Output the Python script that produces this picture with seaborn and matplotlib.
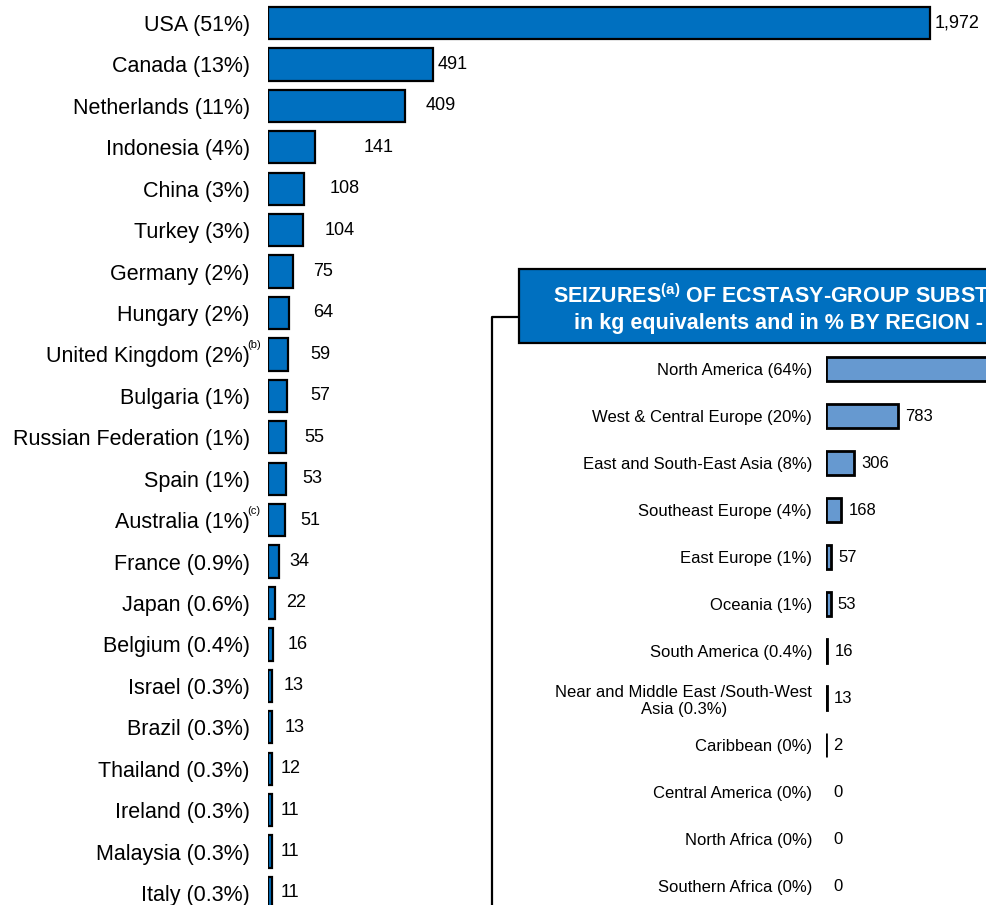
"""
Ecstasy-group seizures by country, with a regional breakdown inset.
"""

import numpy as np
import pandas as pd
import matplotlib.pyplot as plt
from matplotlib.patches import Rectangle
from matplotlib.lines import Line2D
import seaborn as sns

# --- data -------------------------------------------------------------
countries = ['USA (51%)', 'Canada (13%)', 'Netherlands (11%)', 'Indonesia (4%)',
             'China (3%)', 'Turkey (3%)', 'Germany (2%)', 'Hungary (2%)',
             'United Kingdom (2%)', 'Bulgaria (1%)', 'Russian Federation (1%)',
             'Spain (1%)', 'Australia (1%)', 'France (0.9%)', 'Japan (0.6%)',
             'Belgium (0.4%)', 'Israel (0.3%)', 'Brazil (0.3%)', 'Thailand (0.3%)',
             'Ireland (0.3%)', 'Malaysia (0.3%)', 'Italy (0.3%)']
country_kg = [1972, 491, 409, 141, 108, 104, 75, 64, 59, 57, 55, 53, 51,
              34, 22, 16, 13, 13, 12, 11, 11, 11]
country_notes = ['', '', '', '', '', '', '', '', '(b)', '', '', '', '(c)',
                 '', '', '', '', '', '', '', '', '']

regions = ['North America (64%)', 'West & Central Europe (20%)',
           'East and South-East Asia (8%)', 'Southeast Europe (4%)',
           'East Europe (1%)', 'Oceania (1%)', 'South America (0.4%)',
           'Near and Middle East /South-West\nAsia (0.3%)', 'Caribbean (0%)',
           'Central America (0%)', 'North Africa (0%)', 'Southern Africa (0%)']
region_kg = [2485, 783, 306, 168, 57, 53, 16, 13, 2, 0, 0, 0]

title_line1 = 'SEIZURES$^{\\mathbf{(a)}}$ OF ECSTASY-GROUP SUBSTANCES, 2007'
title_line2 = 'in kg equivalents and in % BY REGION - TOTAL: 3.9 TONS'

# value-label gaps (pixels) as laid out in the original
label_gap = [5, 5, 20, 48, 25, 22, 20, 24, 23, 23, 18, 17, 15, 10, 11, 14,
             11, 12, 9, 9, 9, 9]

# --- style ------------------------------------------------------------
sns.set_style('white')
plt.rcParams['font.family'] = ['Liberation Sans', 'DejaVu Sans']
plt.rcParams['mathtext.fontset'] = 'custom'
plt.rcParams['mathtext.rm'] = 'Liberation Sans'
plt.rcParams['mathtext.bf'] = 'Liberation Sans:bold'
plt.rcParams['text.color'] = 'black'
plt.rcParams['ytick.color'] = 'black'
plt.rcParams['ytick.labelcolor'] = 'black'

W, H = 987, 905
fig = plt.figure(figsize=(W / 100, H / 100), dpi=100)

main_blue = '#0070C0'
light_blue = '#6699D0'


def px_box(left, top, right, bottom):
    return [left / W, 1 - bottom / H, (right - left) / W, (bottom - top) / H]


# --- main chart -------------------------------------------------------
ax = fig.add_axes(px_box(268, 0, W, H))
df = pd.DataFrame({'country': countries, 'kg': country_kg})
sns.barplot(data=df, x='kg', y='country', orient='h', color=main_blue,
            saturation=1, edgecolor='black', linewidth=1.6, width=0.78, ax=ax)
ax.set_xlim(0, 2142)
ax.set_ylim(21.29, -0.555)
ax.set_xlabel('')
ax.set_ylabel('')
ax.set_xticks([])
ax.tick_params(axis='y', length=0, pad=13, labelsize=15.5, labelcolor='black')
sns.despine(ax=ax, left=True, bottom=True)

for i, (v, gap, note) in enumerate(zip(country_kg, label_gap, country_notes)):
    ax.annotate(f'{v:,}', xy=(v, i), xytext=(gap, 0), textcoords='offset pixels',
                ha='left', va='center', fontsize=13, color='black')
    if note:
        ax.annotate(note, xy=(0, i), xytext=(-21, 9), textcoords='offset pixels',
                    ha='left', va='center', fontsize=8, color='black',
                    annotation_clip=False)

# --- inset title box and connector ------------------------------------
fig.patches.append(Rectangle((519 / W, 1 - 343 / H), 0.6, 74 / H,
                             transform=fig.transFigure, facecolor=main_blue,
                             edgecolor='black', linewidth=1.6))
fig.lines.append(Line2D([519 / W, 492 / W, 492 / W],
                        [1 - 317 / H, 1 - 317 / H, -0.01],
                        transform=fig.transFigure, color='black', linewidth=1.6))
fig.text(553 / W, 1 - 302 / H, title_line1, color='white', fontsize=15.5,
         fontweight='bold', ha='left', va='baseline')
fig.text(574 / W, 1 - 329 / H, title_line2, color='white', fontsize=15.5,
         fontweight='bold', ha='left', va='baseline')

# --- regional inset ---------------------------------------------------
ax2 = fig.add_axes(px_box(826, 346, W, H))
ax2.patch.set_alpha(0)
rdf = pd.DataFrame({'region': regions, 'kg': region_kg})
sns.barplot(data=rdf, x='kg', y='region', orient='h', color=light_blue,
            saturation=1, edgecolor='black', linewidth=2.0, width=0.51, ax=ax2)
for bar, v in zip(ax2.patches, region_kg):
    if v == 0:
        bar.set_linewidth(0)
ax2.set_xlim(0, 1760)
ax2.set_ylim(11.40, -0.489)
ax2.set_xlabel('')
ax2.set_ylabel('')
ax2.set_xticks([])
ax2.tick_params(axis='y', length=0, pad=10, labelsize=12, labelcolor='black')
for lab in ax2.get_yticklabels():
    lab.set_multialignment('center')
sns.despine(ax=ax2, left=True, bottom=True)

for i, v in enumerate(region_kg):
    ax2.annotate(f'{v:,}', xy=(v, i), xytext=(7, 0), textcoords='offset pixels',
                 ha='left', va='center', fontsize=12, color='black')

fig.savefig('out.png', dpi=100)
